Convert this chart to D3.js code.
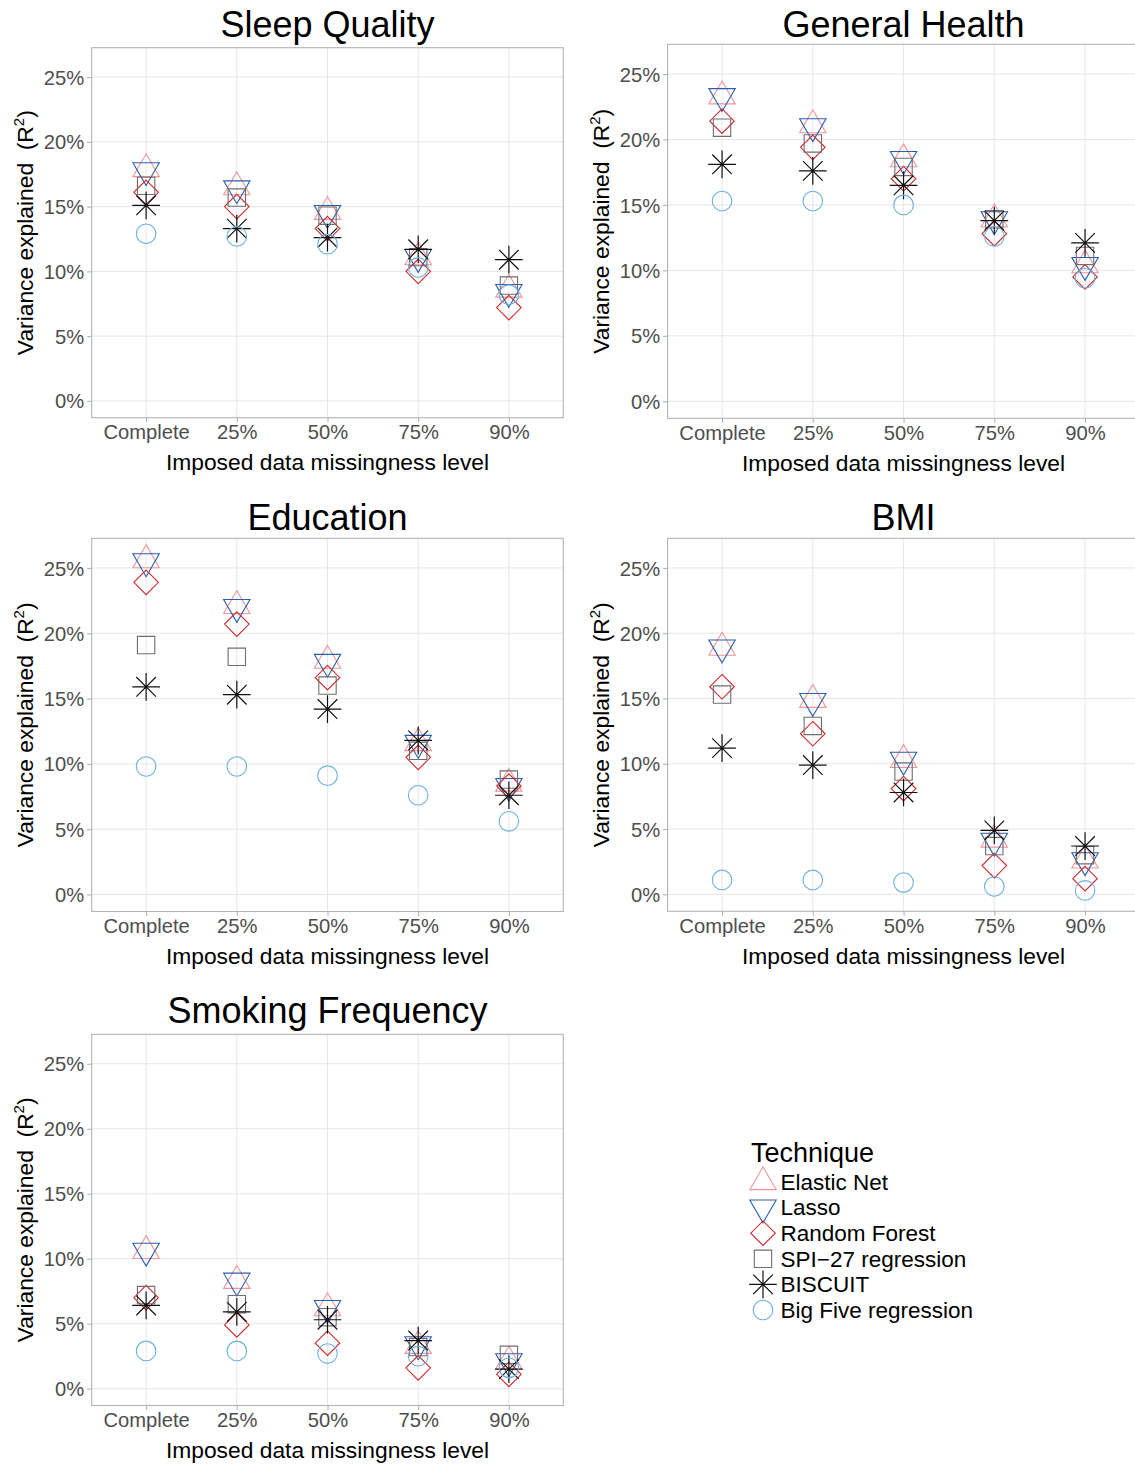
<!DOCTYPE html>
<html><head><meta charset="utf-8">
<script src="https://cdn.jsdelivr.net/npm/d3@7"></script>
<style>body{margin:0;background:#fff;} svg{display:block;font-family:"Liberation Sans",Arial,Helvetica,sans-serif;}</style>
</head><body>
<svg id="chart" width="1135" height="1465"></svg>
<script>
// ---------- data ----------
const levels = ["Complete", "25%", "50%", "75%", "90%"];
const techniques = ["Elastic Net", "Lasso", "Random Forest", "SPI\u221227 regression", "BISCUIT", "Big Five regression"];
const techColors = ["#F2959B", "#2B5FAC", "#D02A2F", "#6E6E6E", "#111111", "#6CB0DE"];
const techShapes = ["triangleUp", "triangleDown", "diamond", "square", "asterisk", "circle"];
const yTicks = [0, 5, 10, 15, 20, 25];
const panelTitles = ["Sleep Quality", "General Health", "Education", "BMI", "Smoking Frequency"];

// rows follow `techniques`, columns follow `levels` (values in % R^2)
const sleepQuality = [
  [17.9, 16.5, 14.6, 11.1, 8.6],
  [17.8, 16.4, 14.5, 11.1, 8.4],
  [16.1, 15.0, 13.3, 10.0, 7.2],
  [16.6, 15.7, 14.3, 11.1, 8.9],
  [15.1, 13.3, 12.6, 11.7, 10.9],
  [12.9, 12.7, 12.1, 10.3, 8.2]
];
const generalHealth = [
  [23.3, 21.1, 18.5, 13.9, 10.4],
  [23.3, 21.0, 18.5, 13.9, 10.4],
  [21.4, 19.4, 17.0, 12.8, 9.5],
  [20.9, 19.7, 17.9, 13.9, 11.1],
  [18.1, 17.6, 16.5, 13.8, 12.1],
  [15.3, 15.3, 15.0, 12.6, 9.4]
];
const education = [
  [25.6, 22.1, 17.9, 11.6, 8.5],
  [25.5, 22.0, 17.8, 11.6, 8.3],
  [23.9, 20.7, 16.6, 10.5, 8.3],
  [19.1, 18.2, 16.0, 11.0, 8.8],
  [15.9, 15.3, 14.2, 11.8, 7.6],
  [9.8, 9.8, 9.1, 7.6, 5.6]
];
const bmi = [
  [18.9, 14.9, 10.3, 4.2, 2.6],
  [18.9, 14.8, 10.3, 4.1, 2.6],
  [15.9, 12.3, 8.1, 2.2, 1.2],
  [15.3, 12.9, 9.4, 3.7, 3.0],
  [11.2, 9.9, 7.8, 4.9, 3.7],
  [1.1, 1.1, 0.9, 0.6, 0.3]
];
const smokingFrequency = [
  [10.6, 8.3, 6.2, 3.3, 2.1],
  [10.6, 8.3, 6.2, 3.4, 2.1],
  [7.0, 4.9, 3.5, 1.6, 1.1],
  [7.2, 6.5, 5.5, 3.2, 2.6],
  [6.4, 5.9, 5.3, 3.7, 1.5],
  [2.9, 2.9, 2.7, 2.5, 1.6]
];
const panelData = [sleepQuality, generalHealth, education, bmi, smokingFrequency];

// ---------- layout ----------
const frames = [
  {l: 91.7, r: 563.3, t: 47.7, b: 417.7, tb: 36.7},
  {l: 667.6, r: 1139.5, t: 44.3, b: 418.3, tb: 36.7},
  {l: 91.7, r: 563.3, t: 538.3, b: 911.5, tb: 530},
  {l: 667.6, r: 1139.5, t: 538.3, b: 911.3, tb: 530},
  {l: 91.7, r: 563.3, t: 1034.3, b: 1405.5, tb: 1023.3}
];
const yDomain = [-1.3, 27.27];
const S = 9.8; // symbol radius unit

function shapePath(shape) {
  const s = S;
  if (shape === "triangleUp") {
    const r = 1.5551 * s, xc = 1.3468 * s, yc = 0.7776 * s;
    return `M0,${-r}L${xc},${yc}L${-xc},${yc}Z`;
  }
  if (shape === "triangleDown") {
    const r = 1.5551 * s, xc = 1.3468 * s, yc = 0.7776 * s;
    return `M0,${r}L${xc},${-yc}L${-xc},${-yc}Z`;
  }
  if (shape === "diamond") {
    const d = 1.2533 * s;
    return `M0,${-d}L${d},0L0,${d}L${-d},0Z`;
  }
  if (shape === "square") {
    const h = 0.8862 * s;
    return `M${-h},${-h}H${h}V${h}H${-h}Z`;
  }
  if (shape === "asterisk") {
    const p = Math.SQRT2 * s;
    return `M${-s},${-s}L${s},${s}M${-s},${s}L${s},${-s}M${-p},0L${p},0M0,${-p}L0,${p}`;
  }
  const p = d3.path(); p.arc(0, 0, s, 0, 2 * Math.PI); return p.toString();
}

const svg = d3.select("#chart");
const defs = svg.append("defs");

frames.forEach((f, pi) => {
  const clipId = "clip" + pi;
  defs.append("clipPath").attr("id", clipId).append("rect")
    .attr("x", f.l).attr("y", f.t).attr("width", f.r - f.l).attr("height", f.b - f.t);

  const x = d3.scalePoint().domain(levels).range([f.l, f.r]).padding(0.6);
  const y = d3.scaleLinear().domain(yDomain).range([f.b, f.t]);
  const g = svg.append("g");

  // grid
  g.append("g").selectAll("line.h").data(yTicks).join("line")
    .attr("x1", f.l).attr("x2", f.r).attr("y1", d => y(d)).attr("y2", d => y(d))
    .attr("stroke", "#E6E6E6").attr("stroke-width", 1);
  g.append("g").selectAll("line.v").data(levels).join("line")
    .attr("x1", d => x(d)).attr("x2", d => x(d)).attr("y1", f.t).attr("y2", f.b)
    .attr("stroke", "#E6E6E6").attr("stroke-width", 1);

  // points
  const pts = g.append("g").attr("clip-path", `url(#${clipId})`);
  panelData[pi].forEach((row, ti) => {
    pts.append("g").selectAll("path").data(row).join("path")
      .attr("d", shapePath(techShapes[ti]))
      .attr("transform", (v, li) => `translate(${x(levels[li])},${y(v)})`)
      .attr("fill", "none")
      .attr("stroke", techColors[ti])
      .attr("stroke-width", techShapes[ti] === "asterisk" ? 1.2 : 1.1);
  });

  // border
  g.append("rect").attr("x", f.l).attr("y", f.t).attr("width", f.r - f.l).attr("height", f.b - f.t)
    .attr("fill", "none").attr("stroke", "#B3B3B3").attr("stroke-width", 1.1);

  // axes
  const yAxis = d3.axisLeft(y).tickValues(yTicks).tickFormat(d => d + "%").tickSize(4.5).tickPadding(3);
  const ya = g.append("g").attr("transform", `translate(${f.l},0)`).call(yAxis);
  const xAxis = d3.axisBottom(x).tickSize(4.5).tickPadding(3);
  const xa = g.append("g").attr("transform", `translate(0,${f.b})`).call(xAxis);
  [ya, xa].forEach(a => {
    a.select(".domain").remove();
    a.selectAll(".tick line").attr("stroke", "#B3B3B3").attr("stroke-width", 1.1);
    a.selectAll(".tick text").attr("fill", "#4D4D4D").attr("font-size", 20.2)
      .attr("font-family", "Liberation Sans, Arial, sans-serif");
  });
  ya.selectAll(".tick text").attr("dy", "0.35em");
  xa.selectAll(".tick text").attr("dy", null).attr("y", 21.7);

  // titles
  const cx = (f.l + f.r) / 2, cy = (f.t + f.b) / 2;
  g.append("text").attr("x", cx).attr("y", f.tb).attr("text-anchor", "middle")
    .attr("font-size", 36).attr("fill", "#000").text(panelTitles[pi]);
  g.append("text").attr("x", cx).attr("y", f.b + 52.3).attr("text-anchor", "middle")
    .attr("font-size", 22.8).attr("fill", "#000").text("Imposed data missingness level");
  const yt = g.append("text").attr("transform", `translate(${f.l - 58.7},${cy}) rotate(-90)`)
    .attr("text-anchor", "middle").attr("font-size", 22.8).attr("fill", "#000");
  yt.append("tspan").text("Variance explained \u00a0(R");
  yt.append("tspan").attr("font-size", 15).attr("dy", -9).text("2");
  yt.append("tspan").attr("dy", 9).text(")");
});

// legend
const lg = svg.append("g");
lg.append("text").attr("x", 751).attr("y", 1161.7).attr("font-size", 27).attr("fill", "#000").text("Technique");
const ly = d3.scalePoint().domain(techniques).range([1182, 1310]);
techniques.forEach((t, i) => {
  lg.append("path").attr("d", shapePath(techShapes[i]))
    .attr("transform", `translate(763,${ly(t)})`)
    .attr("fill", "none").attr("stroke", techColors[i])
    .attr("stroke-width", techShapes[i] === "asterisk" ? 1.2 : 1.1);
  lg.append("text").attr("x", 780.5).attr("y", ly(t)).attr("dy", "0.35em")
    .attr("font-size", 22.5).attr("fill", "#000").text(t);
});
</script>
</body></html>
